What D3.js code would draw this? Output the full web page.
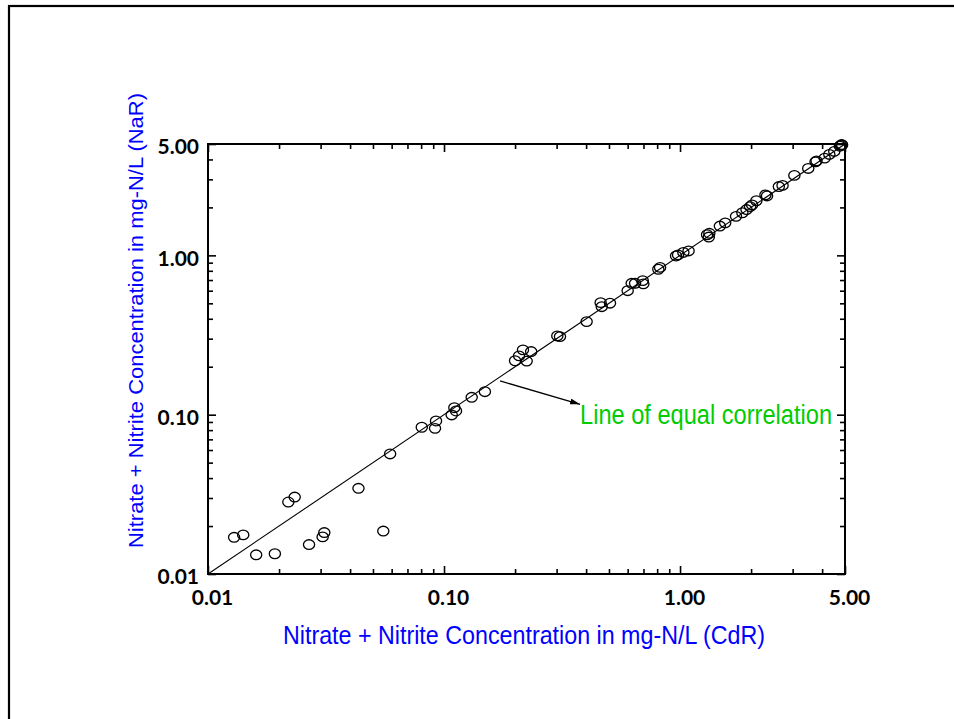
<!DOCTYPE html>
<html>
<head>
<meta charset="utf-8">
<script src="https://d3js.org/d3.v7.min.js"></script>
<style>
  body { margin: 0; background: #fff; }
  svg { display: block; }
</style>
</head>
<body>
<script>

// CdR (x) versus NaR (y) concentrations, mg-N/L
var cdr = [0.0129, 0.0141, 0.0160, 0.0192, 0.0219, 0.0233, 0.0268, 0.0306, 0.0311, 0.0434,
           0.0553, 0.0591, 0.0805, 0.0925, 0.0916, 0.1078, 0.1106, 0.1124, 0.131, 0.149,
           0.200, 0.208, 0.216, 0.224, 0.234, 0.302, 0.310, 0.402, 0.461, 0.466,
           0.505, 0.600, 0.624, 0.645, 0.695, 0.699, 0.809, 0.823, 0.962, 0.981,
           1.033, 1.087, 1.302, 1.324, 1.331, 1.475, 1.554, 1.727, 1.837, 1.913,
           1.981, 2.020, 2.106, 2.301, 2.337, 2.622, 2.719, 3.051, 3.493, 3.751,
           3.788, 4.100, 4.292, 4.503, 4.755, 4.835, 4.86, 4.80];
var nar = [0.0170, 0.0176, 0.0132, 0.0134, 0.0283, 0.0304, 0.0153, 0.0171, 0.0182, 0.0345,
           0.0186, 0.0567, 0.0834, 0.0913, 0.0821, 0.0996, 0.1106, 0.1055, 0.1286, 0.1394,
           0.218, 0.234, 0.255, 0.217, 0.249, 0.312, 0.309, 0.384, 0.505, 0.476,
           0.501, 0.600, 0.668, 0.668, 0.694, 0.662, 0.818, 0.840, 0.991, 1.006,
           1.043, 1.066, 1.347, 1.303, 1.376, 1.527, 1.600, 1.757, 1.851, 1.939,
           2.022, 2.072, 2.202, 2.398, 2.360, 2.704, 2.748, 3.176, 3.512, 3.859,
           3.915, 4.075, 4.298, 4.489, 4.841, 4.962, 4.93, 4.90];

var majorTicks = [0.01, 0.1, 1, 5];
var majorLabels = ["0.01", "0.10", "1.00", "5.00"];
var minorTicks = [0.02, 0.03, 0.04, 0.05, 0.06, 0.07, 0.08, 0.09,
                  0.2, 0.3, 0.4, 0.5, 0.6, 0.7, 0.8, 0.9, 2, 3, 4];

var xTitle = "Nitrate + Nitrite Concentration in mg-N/L (CdR)";
var yTitle = "Nitrate + Nitrite Concentration in mg-N/L (NaR)";
var noteText = "Line of equal correlation";

window.onload = function(){
    drawChart();
};

function drawChart(){
    var svg = d3.select("body").append("svg").attr("width", 954).attr("height", 719);

    // outer frame (runs off the right and bottom edge)
    svg.append("rect")
        .attr("x", 9).attr("y", 6)
        .attr("width", 1000).attr("height", 1000)
        .attr("fill", "none").attr("stroke", "black").attr("stroke-width", 2.2);

    var margin = {top: 144, right: 109, bottom: 145, left: 208};
    var w = 954 - margin.left - margin.right;
    var h = 719 - margin.top - margin.bottom;
    var g = svg.append("g").attr("transform", "translate(" + margin.left + "," + margin.top + ")");

    var xScale = d3.scaleLog().domain([0.01, 5]).range([0, w]);
    var yScale = d3.scaleLog().domain([0.01, 5]).range([h, 0]);

    var labelFor = function(d){ return majorLabels[majorTicks.indexOf(d)]; };

    // minor ticks on all four sides, pointing inward
    g.append("g").attr("class", "minor").attr("transform", "translate(0," + h + ")")
        .call(d3.axisBottom(xScale).tickValues(minorTicks).tickSize(-5).tickSizeOuter(0).tickFormat(""));
    g.append("g").attr("class", "minor")
        .call(d3.axisTop(xScale).tickValues(minorTicks).tickSize(-5).tickSizeOuter(0).tickFormat(""));
    g.append("g").attr("class", "minor")
        .call(d3.axisLeft(yScale).tickValues(minorTicks).tickSize(-5).tickSizeOuter(0).tickFormat(""));
    g.append("g").attr("class", "minor").attr("transform", "translate(" + w + ",0)")
        .call(d3.axisRight(yScale).tickValues(minorTicks).tickSize(-5).tickSizeOuter(0).tickFormat(""));

    // major ticks with labels on bottom and left
    var xAxis = g.append("g").attr("class", "major").attr("transform", "translate(0," + h + ")")
        .call(d3.axisBottom(xScale).tickValues(majorTicks).tickSize(-8).tickSizeOuter(0).tickPadding(16).tickFormat(labelFor));
    var yAxis = g.append("g").attr("class", "major")
        .call(d3.axisLeft(yScale).tickValues(majorTicks).tickSize(-8).tickSizeOuter(0).tickPadding(9).tickFormat(labelFor));
    g.append("g").attr("class", "major")
        .call(d3.axisTop(xScale).tickValues(majorTicks).tickSize(-8).tickSizeOuter(0).tickFormat(""));
    g.append("g").attr("class", "major").attr("transform", "translate(" + w + ",0)")
        .call(d3.axisRight(yScale).tickValues(majorTicks).tickSize(-8).tickSizeOuter(0).tickFormat(""));

    g.selectAll(".domain").remove();
    g.selectAll(".tick line").attr("stroke", "black").attr("stroke-width", 1.6);

    xAxis.selectAll("text")
        .attr("dx", 4)
        .style("font-family", "Lato, 'Open Sans', sans-serif")
        .style("font-weight", "bold").style("font-size", "21px").attr("fill", "black");
    yAxis.selectAll("text")
        .attr("dy", "0.47em")
        .style("font-family", "Lato, 'Open Sans', sans-serif")
        .style("font-weight", "bold").style("font-size", "21px").attr("fill", "black");

    // plot box
    g.append("rect")
        .attr("width", w).attr("height", h)
        .attr("fill", "none").attr("stroke", "black").attr("stroke-width", 2);

    // 1:1 line
    g.append("line")
        .attr("x1", xScale(0.01)).attr("y1", yScale(0.01))
        .attr("x2", xScale(5)).attr("y2", yScale(5))
        .attr("stroke", "black").attr("stroke-width", 1.1);

    // sample points
    g.selectAll(".pt")
        .data(cdr)
        .enter()
        .append("ellipse")
        .attr("class", "pt")
        .attr("cx", function(d){ return xScale(d); })
        .attr("cy", function(d, i){ return yScale(nar[i]); })
        .attr("rx", 5.6)
        .attr("ry", 4.8)
        .attr("fill", "none")
        .attr("stroke", "black")
        .attr("stroke-width", 1.3);

    // annotation arrow + text
    svg.append("defs").append("marker")
        .attr("id", "arrow")
        .attr("viewBox", "0 0 10 6")
        .attr("refX", 10).attr("refY", 3)
        .attr("markerWidth", 10).attr("markerHeight", 6)
        .attr("markerUnits", "userSpaceOnUse")
        .attr("orient", "auto")
        .append("path").attr("d", "M0,0 L10,3 L0,6 Z").attr("fill", "black");

    g.append("line")
        .attr("x1", xScale(0.1727)).attr("y1", yScale(0.1628))
        .attr("x2", xScale(0.377)).attr("y2", yScale(0.1162))
        .attr("stroke", "black").attr("stroke-width", 1.3)
        .attr("marker-end", "url(#arrow)");

    g.append("text")
        .attr("x", xScale(0.377)).attr("y", yScale(0.0875))
        .attr("textLength", 252)
        .attr("lengthAdjust", "spacingAndGlyphs")
        .style("font-family", "'Liberation Sans', Arial, sans-serif")
        .style("font-size", "27px")
        .attr("fill", "#00cc00")
        .text(noteText);

    // axis titles
    svg.append("text")
        .attr("x", 283).attr("y", 644)
        .attr("textLength", 482)
        .attr("lengthAdjust", "spacingAndGlyphs")
        .style("font-family", "'Liberation Sans', Arial, sans-serif")
        .style("font-size", "26px")
        .attr("fill", "#0000ff")
        .text(xTitle);

    svg.append("text")
        .attr("transform", "translate(143,548) rotate(-90)")
        .attr("textLength", 455)
        .attr("lengthAdjust", "spacingAndGlyphs")
        .style("font-family", "'Liberation Sans', Arial, sans-serif")
        .style("font-size", "20px")
        .attr("fill", "#0000ff")
        .text(yTitle);
}

</script>
</body>
</html>
